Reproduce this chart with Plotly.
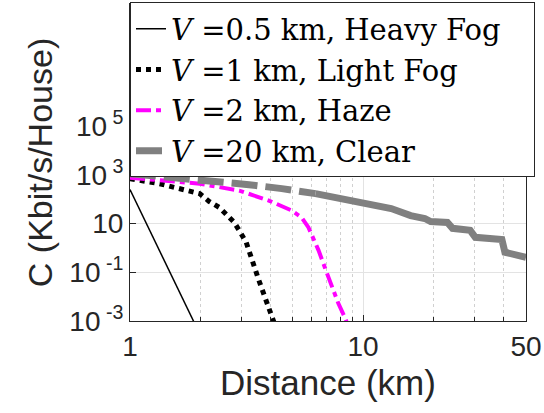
import plotly.graph_objects as go

# Capacity per house vs. link distance for four visibility conditions
heavy_fog_km = [1.0, 1.4, 2.0]
heavy_fog_c = [245, 0.32, 2.7e-4]

light_fog_km = [1.0, 1.34, 1.99, 2.19, 2.42, 2.8, 2.94, 3.15, 3.57, 4.14, 4.26]
light_fog_c = [687, 427, 167, 79, 45, 11, 5.2, 1.7, 0.047, 1e-3, 4.3e-4]

haze_km = [1.0, 1.34, 1.99, 2.94, 3.94, 4.94, 5.45, 5.83, 6.44, 7.1, 7.83, 8.38, 8.63]
haze_c = [753, 569, 427, 223, 87, 34, 17.6, 6.9, 0.79, 0.063, 0.0053, 0.0013, 6.3e-4]

clear_km = [1.0, 1.585, 2.49, 3.24, 4.48, 6.25, 10.0, 12.5, 13.2, 16.0, 18.4, 19.5,
            23.0, 24.2, 28.8, 30.3, 39.4, 40.6, 50.0]
clear_c = [1096, 753, 470, 390, 269, 167, 66, 45, 41, 21, 16, 12,
           11, 6.3, 5.2, 2.7, 2.2, 0.66, 0.41]
clear_split_km = 6.25  # densely sampled part of the curve renders as a solid band

y_tick_vals = [1e-3, 1e-1, 10, 1e3, 1e5]
y_tick_text = ["10<sup> -3</sup>", "10<sup> -1</sup>", "10", "10<sup> 3</sup>", "10<sup> 5</sup>"]
x_tick_vals = [1, 10, 50]
x_tick_text = ["1", "10", "50"]
x_minor_vals = [2, 3, 4, 5, 6, 7, 8, 9, 20, 30, 40]

INK = "#262626"
GRID = "#e3e3e3"
PAD = "&nbsp;" * 3  # keeps the legend box as wide as the plot

fig = go.Figure()

fig.add_trace(go.Scatter(
    x=heavy_fog_km, y=heavy_fog_c, mode="lines",
    name="<i>V</i> =0.5 km, Heavy Fog" + PAD,
    line=dict(color="black", width=1.5),
))
fig.add_trace(go.Scatter(
    x=light_fog_km, y=light_fog_c, mode="lines",
    name="<i>V</i> =1 km, Light Fog",
    line=dict(color="black", width=5, dash="dot"),
))
fig.add_trace(go.Scatter(
    x=haze_km, y=haze_c, mode="lines",
    name="<i>V</i> =2 km, Haze",
    line=dict(color="#ff00ff", width=4, dash="15px,5px,5px,5px"),
))

split = clear_km.index(clear_split_km)
fig.add_trace(go.Scatter(
    x=clear_km[:split + 1], y=clear_c[:split + 1], mode="lines",
    name="<i>V</i> =20 km, Clear", legendgroup="clear",
    line=dict(color="#808080", width=7, dash="26px,8px"),
))
fig.add_trace(go.Scatter(
    x=clear_km[split:], y=clear_c[split:], mode="lines",
    name="<i>V</i> =20 km, Clear", legendgroup="clear", showlegend=False,
    line=dict(color="#808080", width=7),
))

fig.update_layout(
    width=544, height=413,
    margin=dict(l=130, r=15, t=2, b=92),
    paper_bgcolor="white", plot_bgcolor="white",
    font=dict(family="Liberation Sans, Arial, sans-serif", color=INK),
    legend=dict(
        x=0, y=1.005, xanchor="left", yanchor="top",
        bgcolor="white", bordercolor=INK, borderwidth=1,
        font=dict(family="DejaVu Serif, serif", size=29, color="black"),
        itemwidth=30, tracegroupgap=0,
    ),
)

fig.update_xaxes(
    type="log", range=[0, 1.69897],
    tickmode="array", tickvals=x_tick_vals, ticktext=x_tick_text,
    tickfont=dict(size=28), ticks="inside", ticklen=6, tickcolor=INK,
    ticklabeloverflow="allow",
    showline=True, linecolor=INK, linewidth=1, mirror=True,
    showgrid=True, gridcolor=GRID, gridwidth=1,
    minor=dict(tickvals=x_minor_vals, ticks="inside", ticklen=4, tickcolor=INK,
               showgrid=True, gridcolor="#d0d0d0", griddash="dot", gridwidth=1),
    title=dict(text="Distance (km)", font=dict(size=35), standoff=9),
    zeroline=False,
)
fig.update_yaxes(
    type="log", range=[-3, 10],
    tickmode="array", tickvals=y_tick_vals, ticktext=y_tick_text,
    tickfont=dict(size=28), ticks="inside", ticklen=6, tickcolor=INK,
    showline=True, linecolor=INK, linewidth=1, mirror=True,
    showgrid=True, gridcolor=GRID, gridwidth=1,
    title=dict(text="C (Kbit/s/House)", font=dict(size=34), standoff=6),
    zeroline=False,
)

fig.write_html("out.html")
